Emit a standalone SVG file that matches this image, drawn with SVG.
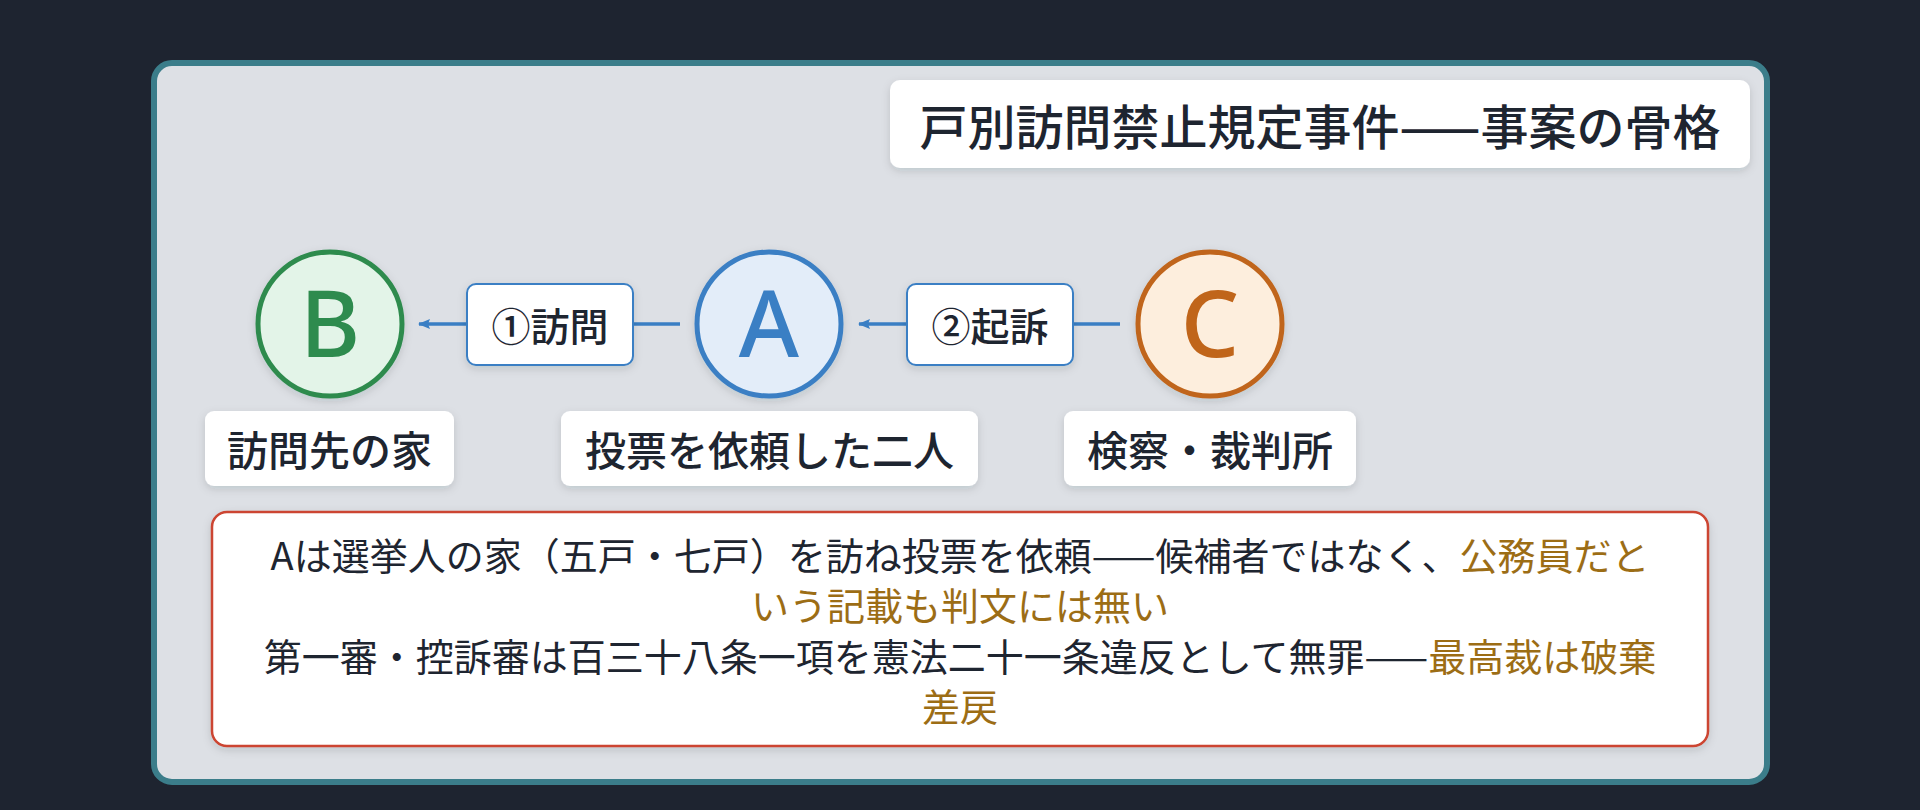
<svg xmlns="http://www.w3.org/2000/svg" width="1920" height="810" viewBox="0 0 1920 810">
<defs>
<style>
.cjk{font-family:"Noto Sans CJK JP","Noto Sans",sans-serif;fill:#1e2530;}
.title{font-size:48px;font-weight:500;text-anchor:middle;dominant-baseline:central;}
.name{font-size:41px;font-weight:500;text-anchor:middle;dominant-baseline:central;}
.elab{font-size:39px;font-weight:500;text-anchor:middle;dominant-baseline:central;}
.body{font-size:38px;font-weight:400;text-anchor:middle;dominant-baseline:central;}
.gold{fill:#9c6d15;}
.letter{font-family:"Noto Sans","Open Sans",sans-serif;font-size:92px;font-weight:500;text-anchor:middle;}
.card{fill:#ffffff;}
.elbox{fill:#ffffff;stroke:#3a7fc4;stroke-width:2;}
.edge{stroke:#3a7fc4;stroke-width:3.5;fill:none;}
</style>
<filter id="sh" x="-20%" y="-20%" width="140%" height="150%">
<feDropShadow dx="0" dy="3" stdDeviation="4" flood-color="#1e2530" flood-opacity="0.14"/>
</filter>
<marker id="arr" viewBox="0 0 12 10" refX="11" refY="5" markerWidth="12" markerHeight="10" markerUnits="userSpaceOnUse" orient="auto">
<path d="M12,5 L0,0 L2,5 L0,10 Z" fill="#3a7fc4"/>
</marker>
</defs>
<rect x="0" y="0" width="1920" height="810" fill="#1e2430"/>
<rect x="154" y="63" width="1613" height="719" rx="18" ry="18" fill="#dde0e5" stroke="#3b7d8a" stroke-width="6"/>

<g id="title">
<rect x="890" y="80" width="860" height="88" rx="10" class="card" filter="url(#sh)"/>
<text x="1320" y="124" class="cjk title">戸別訪問禁止規定事件——事案の骨格</text>
</g>

<g id="connectors">
<line x1="680" y1="324" x2="419" y2="324" class="edge" marker-end="url(#arr)"/>
<line x1="1120" y1="324" x2="859" y2="324" class="edge" marker-end="url(#arr)"/>
<g id="label-visit">
<rect x="467" y="284" width="166" height="81" rx="9" class="elbox" filter="url(#sh)"/>
<text x="550" y="324" class="cjk elab">①訪問</text>
</g>
<g id="label-prosecute">
<rect x="907" y="284" width="166" height="81" rx="9" class="elbox" filter="url(#sh)"/>
<text x="990" y="324" class="cjk elab">②起訴</text>
</g>
</g>

<g id="node-B">
<circle cx="330" cy="324" r="72" fill="#e3f4e8" stroke="#2e8b4e" stroke-width="5" filter="url(#sh)"/>
<text x="330" y="357" class="letter" fill="#2e8b4e">B</text>
<rect x="205" y="411" width="249" height="75" rx="9" class="card" filter="url(#sh)"/>
<text x="329.5" y="448" class="cjk name">訪問先の家</text>
</g>

<g id="node-A">
<circle cx="769" cy="324" r="72" fill="#e3edf9" stroke="#3a7fc4" stroke-width="5" filter="url(#sh)"/>
<text x="769" y="357" class="letter" fill="#3a7fc4">A</text>
<rect x="561" y="411" width="417" height="75" rx="9" class="card" filter="url(#sh)"/>
<text x="769.5" y="448" class="cjk name">投票を依頼した二人</text>
</g>

<g id="node-C">
<circle cx="1210" cy="324" r="72" fill="#fdeedd" stroke="#c0651a" stroke-width="5" filter="url(#sh)"/>
<text x="1210" y="357" class="letter" fill="#c0651a">C</text>
<rect x="1064" y="411" width="292" height="75" rx="9" class="card" filter="url(#sh)"/>
<text x="1210" y="448" class="cjk name">検察・裁判所</text>
</g>

<g id="summary">
<rect x="212" y="512" width="1496" height="234" rx="15" fill="#ffffff" stroke="#cc4430" stroke-width="2.5" filter="url(#sh)"/>
<text x="960" y="553" class="cjk body">Aは選挙人の家（五戸・七戸）を訪ね投票を依頼——候補者ではなく、<tspan class="gold">公務員だと</tspan></text>
<text x="960" y="603.5" class="cjk body gold">いう記載も判文には無い</text>
<text x="960" y="654" class="cjk body">第一審・控訴審は百三十八条一項を憲法二十一条違反として無罪——<tspan class="gold">最高裁は破棄</tspan></text>
<text x="960" y="704.5" class="cjk body gold">差戻</text>
</g>
</svg>
